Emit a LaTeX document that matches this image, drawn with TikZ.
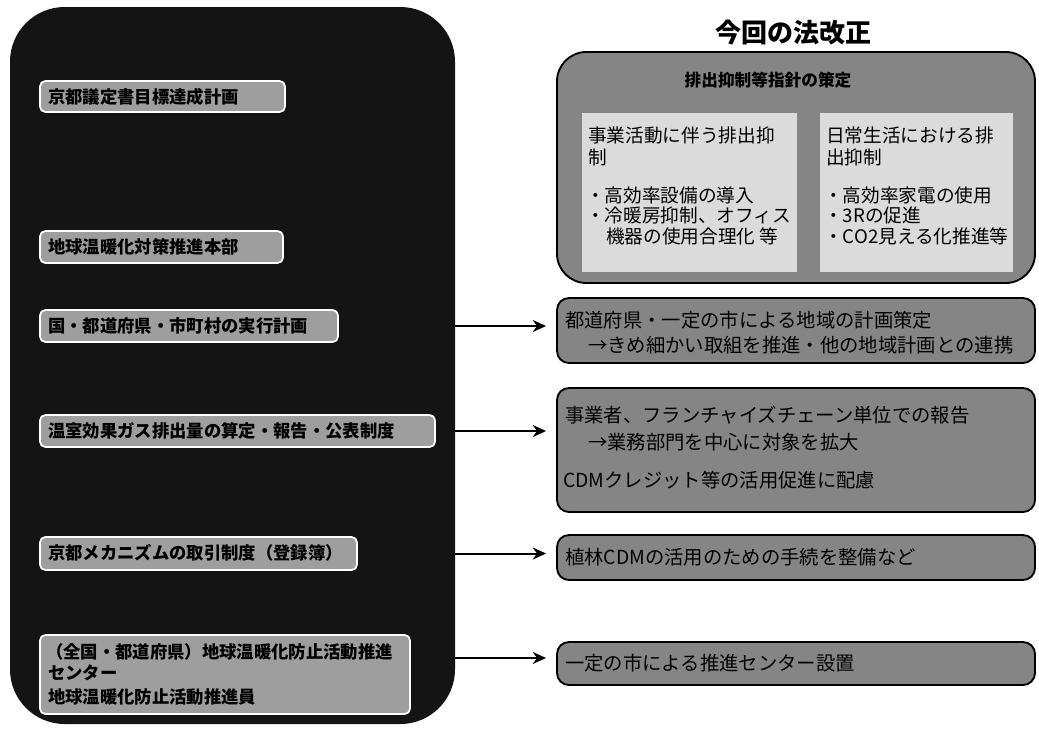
\documentclass[tikz,border=0pt]{standalone}
\usepackage{fontspec}
\setmainfont{Noto Sans CJK JP}
\usetikzlibrary{fit,arrows.meta}
\begin{document}
\begin{tikzpicture}[x=0.75pt,y=-0.75pt,
  bigL/.style={fill=black!92, draw=none, rounded corners=41pt, inner sep=0pt},
  item/.style={fill=black!38, draw=white, line width=1.3pt, rounded corners=4pt, inner sep=0pt},
  rbox/.style={fill=black!48, draw=black, line width=1.4pt, rounded corners=9pt, inner sep=0pt},
  rbig/.style={rbox, rounded corners=22pt},
  inbox/.style={fill=black!14, draw=none, inner sep=0pt},
  ltxt/.style={anchor=west, inner sep=0pt, font=\fontsize{13}{15}\selectfont\bfseries},
  rtxt/.style={anchor=west, inner sep=0pt, font=\fontsize{14.5}{17}\selectfont},
  itxt/.style={anchor=west, inner sep=0pt, font=\fontsize{14}{16}\selectfont},
  arr/.style={-{Stealth[length=10pt,width=9pt]}, line width=1.5pt, shorten >=7.5pt}]
\useasboundingbox (0,0) rectangle (1039,729);
\fill[white] (0,0) rectangle (1039,729);

% left big box
\node[bigL, fit={(10,7)(455,724)}] (L) {};
\node[item, fit={(40,81)(285,112)}] (i1) {};
\node[item, fit={(40,231)(283,263)}] (i2) {};
\node[item, fit={(40,310)(338,342)}] (i3) {};
\node[item, fit={(40,415)(435,447)}] (i4) {};
\node[item, fit={(40,537)(357,570)}] (i5) {};
\node[item, fit={(40,635)(410,714)}] (i6) {};

\node[ltxt] (t1) at (48,97) {京都議定書目標達成計画};
\node[ltxt] (t2) at (48,247) {地球温暖化対策推進本部};
\node[ltxt] (t3) at (48,326) {国・都道府県・市町村の実行計画};
\node[ltxt] (t4) at (48,431) {温室効果ガス排出量の算定・報告・公表制度};
\node[ltxt] (t5) at (48,553) {京都メカニズムの取引制度（登録簿）};
\node[ltxt] (t6a) at (46,652) {（全国・都道府県）地球温暖化防止活動推進};
\node[ltxt] (t6b) at (48,673) {センター};
\node[ltxt] (t6c) at (48,697) {地球温暖化防止活動推進員};

% right side
\node[font=\fontsize{19.5}{22}\selectfont\bfseries] (title) at (793,33) {今回の法改正};
\node[rbig, fit={(557,52)(1035,283)}] (r1) {};
\node[font=\fontsize{12.5}{15}\selectfont\bfseries] (h1) at (768,80) {排出抑制等指針の策定};
\node[inbox, fit={(582,113)(797,272)}] (in1) {};
\node[inbox, fit={(820,113)(1013,272)}] (in2) {};
\node[itxt] (a1) at (588,135) {事業活動に伴う排出抑};
\node[itxt] (a2) at (588,157) {制};
\node[itxt] (a3) at (586,195) {・高効率設備の導入};
\node[itxt] (a4) at (586,215) {・冷暖房抑制、オフィス};
\node[itxt] (a5) at (606,236) {機器の使用合理化 等};
\node[itxt] (b1) at (826,135) {日常生活における排};
\node[itxt] (b2) at (826,157) {出抑制};
\node[itxt] (b3) at (824,195) {・高効率家電の使用};
\node[itxt] (b4) at (824,215) {・3Rの促進};
\node[itxt] (b5) at (824,236) {・CO2見える化推進等};

\node[rbox, fit={(557,298)(1035,363)}] (r2) {};
\node[rtxt] (c1) at (565,320) {都道府県・一定の市による地域の計画策定};
\node[rtxt] (c2) at (588,345) {→きめ細かい取組を推進・他の地域計画との連携};

\node[rbox, fit={(557,388)(1035,512)}] (r3) {};
\node[rtxt] (d1) at (565,415) {事業者、フランチャイズチェーン単位での報告};
\node[rtxt] (d2) at (588,442) {→業務部門を中心に対象を拡大};
\node[rtxt] (d3) at (563,480) {CDMクレジット等の活用促進に配慮};

\node[rbox, fit={(557,535)(1035,580)}] (r4) {};
\node[rtxt] (e1) at (565,557) {植林CDMの活用のための手続を整備など};

\node[rbox, fit={(557,642)(1035,685)}] (r5) {};
\node[rtxt] (f1) at (565,663) {一定の市による推進センター設置};

% arrows
\draw[arr] (L.east |- i3.east) -- (i3.east -| r2.west);
\draw[arr] (L.east |- i4.east) -- (i4.east -| r3.west);
\draw[arr] (L.east |- i5.east) -- (i5.east -| r4.west);
\coordinate (c6) at (455,658);
\draw[arr] (c6) -- (c6 -| r5.west);
\end{tikzpicture}
\end{document}
